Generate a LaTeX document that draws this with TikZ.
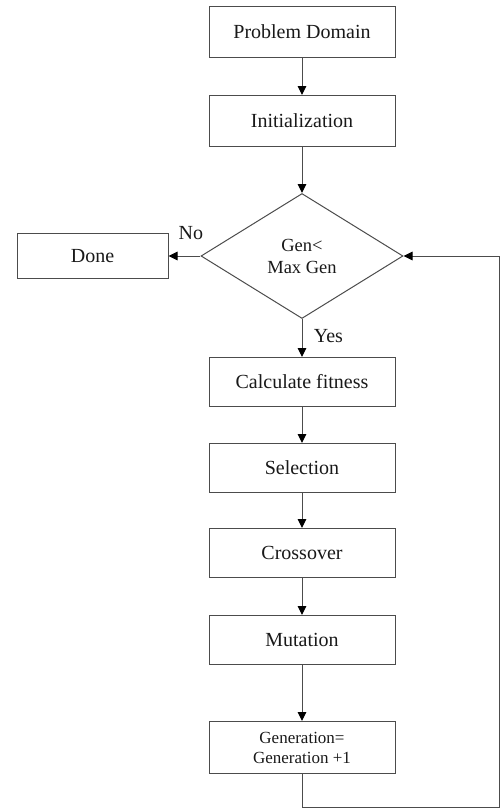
\documentclass[tikz,border=0pt]{standalone}
\usepackage{fontspec}
\setmainfont{Liberation Serif}
\usetikzlibrary{positioning,shapes.geometric,arrows.meta}

\begin{document}
\begin{tikzpicture}[box/.style={rectangle,draw=black!70,line width=1pt,text=black!90,minimum width=186pt,minimum height=51pt,inner sep=2pt,align=center,font=\fontsize{20}{23}\selectfont},
	decision/.style={diamond,draw=black!70,line width=1pt,text=black!90,minimum width=202pt,minimum height=125pt,inner sep=0pt,align=center,font=\fontsize{18.5}{22}\selectfont},
	arrow/.style={draw=black!70,line width=1pt,-{Triangle[length=9pt,width=8.5pt,color=black]}},
	lbl/.style={text=black!90,font=\fontsize{20}{23}\selectfont}]
		\useasboundingbox (0,0) rectangle (500pt,-809pt);
		\node[box] (dom) at (302pt,-32pt) {Problem Domain};
		\node[box] (init) [below=37pt of dom] {Initialization};
		\node[decision] (q) [below=46pt of init] {Gen<\\Max Gen};
		\node[box,minimum width=151pt,minimum height=45pt] (done) [left=32pt of q] {Done};
		\node[box,minimum height=49pt] (fit) [below=38pt of q] {Calculate fitness};
		\node[box,minimum height=49pt] (sel) [below=36pt of fit] {Selection};
		\node[box,minimum height=49pt] (cross) [below=35pt of sel] {Crossover};
		\node[box,minimum height=49pt] (mut) [below=37pt of cross] {Mutation};
		\node[box,minimum height=52pt,font=\fontsize{17}{20}\selectfont] (inc) [below=56pt of mut] {Generation=\\Generation +1};
		\coordinate (c1) at (499pt,-807.5pt);

		\draw[arrow] (dom) -- (init);
		\draw[arrow] (init) -- (q);
		\draw[arrow] (q) -- node[lbl,above=12pt,pos=0.3] {No} (done);
		\draw[arrow] (q) -- node[lbl,right=8pt,pos=0.45] {Yes} (fit);
		\draw[arrow] (fit) -- (sel);
		\draw[arrow] (sel) -- (cross);
		\draw[arrow] (cross) -- (mut);
		\draw[arrow] (mut) -- (inc);
		\draw[arrow] (inc) |- (c1) |- (q);
	\end{tikzpicture}
\end{document}
